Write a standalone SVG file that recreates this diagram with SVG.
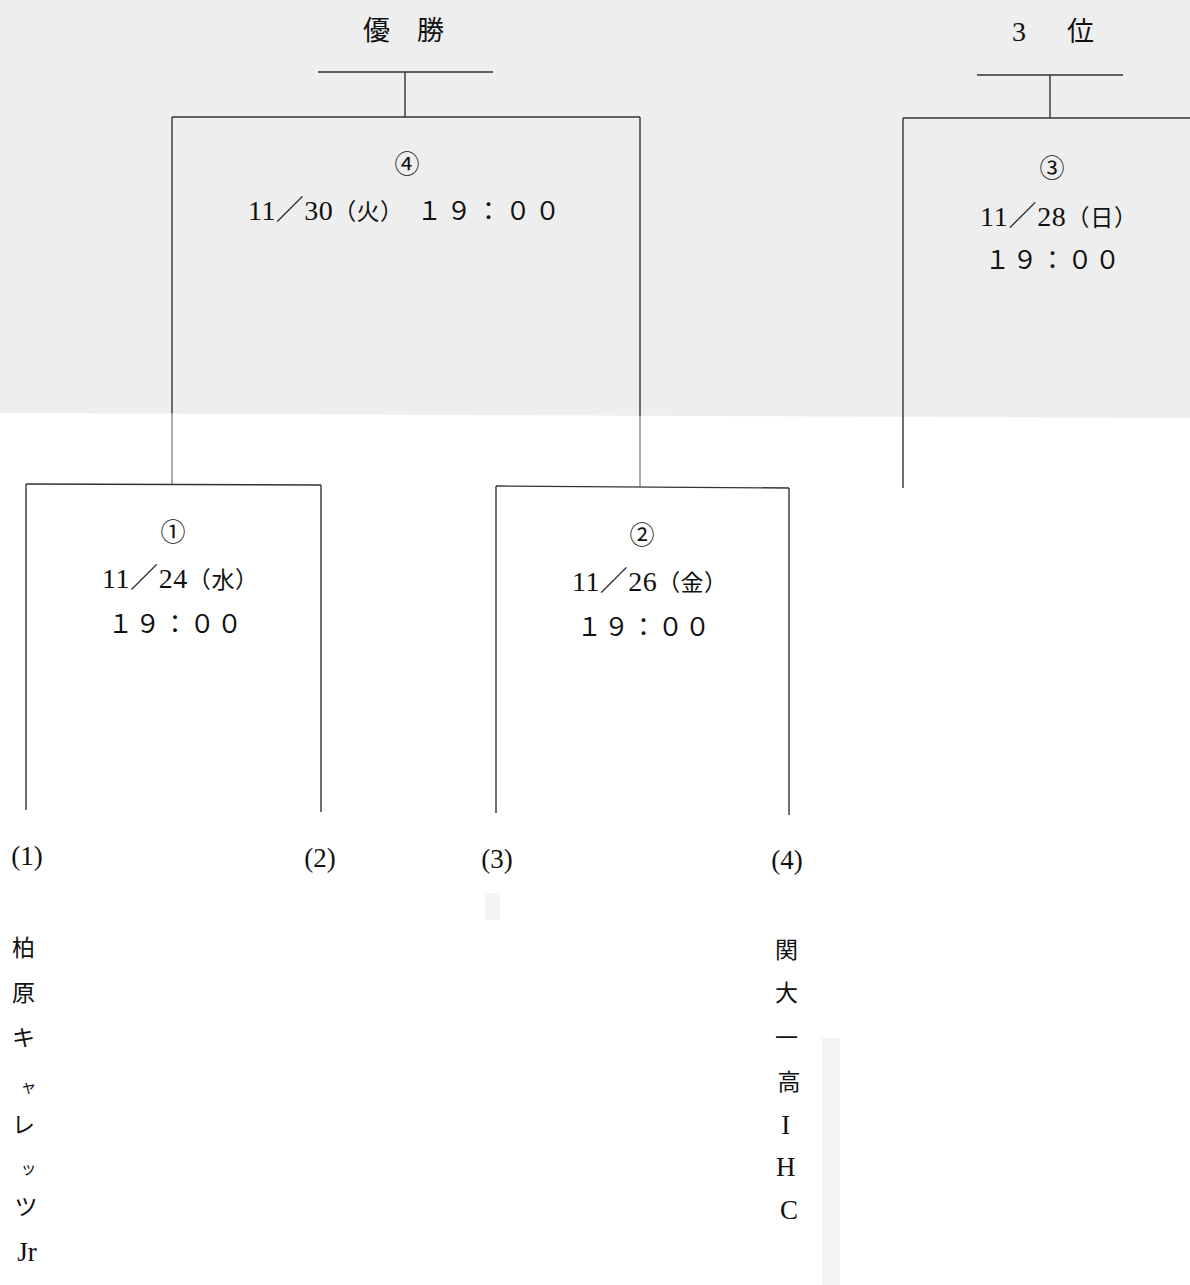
<svg xmlns="http://www.w3.org/2000/svg" width="1190" height="1285" viewBox="0 0 1190 1285">
<style>
.ln{stroke:#333333;stroke-width:1.4;fill:none}
.lt{stroke:#666666;stroke-width:1.1;fill:none}
.t{font-family:"Liberation Serif","Noto Sans CJK JP",serif;fill:#111}
.j{font-family:"Noto Sans CJK JP","Liberation Serif",serif;fill:#111}
.m{text-anchor:middle}
.d{font-size:28px}
.k{font-family:"Noto Sans CJK JP",serif;font-size:23px}
</style>
<rect x="0" y="0" width="1190" height="1285" fill="#ffffff"/>
<polygon points="0,0 1190,0 1190,418 0,413" fill="#eeeeee"/>
<rect x="485" y="893" width="15" height="27" fill="#f4f4f4"/>
<rect x="822" y="1038" width="18" height="247" fill="#f3f3f3"/>

<g id="connectors">
  <line class="ln" x1="318" y1="72" x2="493" y2="72"/>
  <line class="ln" x1="405" y1="72" x2="405" y2="117"/>
  <line class="ln" x1="977" y1="75" x2="1123" y2="75"/>
  <line class="ln" x1="1050" y1="75" x2="1050" y2="118"/>
  <line class="lt" x1="172" y1="413" x2="172" y2="484"/>
  <line class="lt" x1="640" y1="416" x2="640" y2="487"/>
  <line class="ln" x1="903" y1="417" x2="903" y2="488"/>
</g>

<g id="node-final">
  <line class="ln" x1="172" y1="117" x2="640" y2="117"/>
  <line class="ln" x1="172" y1="117" x2="172" y2="413"/>
  <line class="ln" x1="640" y1="117" x2="640" y2="416"/>
  <text class="j" x="363" y="40" font-size="27">優　勝</text>
  <text class="j m" x="407" y="173" font-size="25">④</text>
  <text class="t d" x="248" y="220" textLength="155" lengthAdjust="spacing">11／30<tspan class="k">（火）</tspan></text>
  <text class="t" x="417" y="220" font-size="25" textLength="143" lengthAdjust="spacing">１９：００</text>
</g>

<g id="node-third">
  <line class="ln" x1="903" y1="118" x2="1190" y2="118"/>
  <line class="ln" x1="903" y1="118" x2="903" y2="417"/>
  <text class="t" font-size="28" y="41"><tspan x="1012">3</tspan><tspan x="1067" font-family="Noto Sans CJK JP" font-size="27">位</tspan></text>
  <text class="j m" x="1052" y="177" font-size="25">③</text>
  <text class="t d" x="980" y="226" textLength="157" lengthAdjust="spacing">11／28<tspan class="k">（日）</tspan></text>
  <text class="t" x="985" y="269" font-size="25" textLength="135" lengthAdjust="spacing">１９：００</text>
</g>

<g id="node-match1">
  <line class="ln" x1="26" y1="484" x2="321" y2="485"/>
  <line class="ln" x1="26" y1="484" x2="26" y2="810"/>
  <line class="ln" x1="321" y1="485" x2="321" y2="812"/>
  <text class="j m" x="173" y="541" font-size="25">①</text>
  <text class="t d" x="102" y="588" textLength="156" lengthAdjust="spacing">11／24<tspan class="k">（水）</tspan></text>
  <text class="t" x="108" y="633" font-size="25" textLength="134" lengthAdjust="spacing">１９：００</text>
</g>

<g id="node-match2">
  <line class="ln" x1="496" y1="486" x2="789" y2="488"/>
  <line class="ln" x1="496" y1="486" x2="496" y2="813"/>
  <line class="ln" x1="789" y1="488" x2="789" y2="815"/>
  <text class="j m" x="642" y="544" font-size="25">②</text>
  <text class="t d" x="572" y="591" textLength="155" lengthAdjust="spacing">11／26<tspan class="k">（金）</tspan></text>
  <text class="t" x="577" y="636" font-size="25" textLength="133" lengthAdjust="spacing">１９：００</text>
</g>

<g id="node-seed1">
  <text class="t m" x="27" y="865" font-size="27">(1)</text>
  <text class="j m" font-size="23">
    <tspan x="26" y="956">柏</tspan>
    <tspan x="26" y="1001">原</tspan>
    <tspan x="26" y="1046">キ</tspan>
    <tspan x="31" y="1092" font-size="16">ャ</tspan>
    <tspan x="26" y="1133">レ</tspan>
    <tspan x="31" y="1174" font-size="16">ッ</tspan>
    <tspan x="26" y="1215">ツ</tspan>
  </text>
  <text class="t m" x="27" y="1261" font-size="27">Jr</text>
</g>

<g id="node-seed2">
  <text class="t m" x="320" y="867" font-size="27">(2)</text>
</g>

<g id="node-seed3">
  <text class="t m" x="497" y="868" font-size="27">(3)</text>
</g>

<g id="node-seed4">
  <text class="t m" x="787" y="869" font-size="27">(4)</text>
  <text class="j m" font-size="23">
    <tspan x="789" y="958">関</tspan>
    <tspan x="789" y="1001">大</tspan>
    <tspan x="789" y="1046">一</tspan>
    <tspan x="789" y="1090">高</tspan>
  </text>
  <text class="t m" font-size="27">
    <tspan x="789" y="1134">I</tspan>
    <tspan x="789" y="1176">H</tspan>
    <tspan x="789" y="1219">C</tspan>
  </text>
</g>
</svg>
